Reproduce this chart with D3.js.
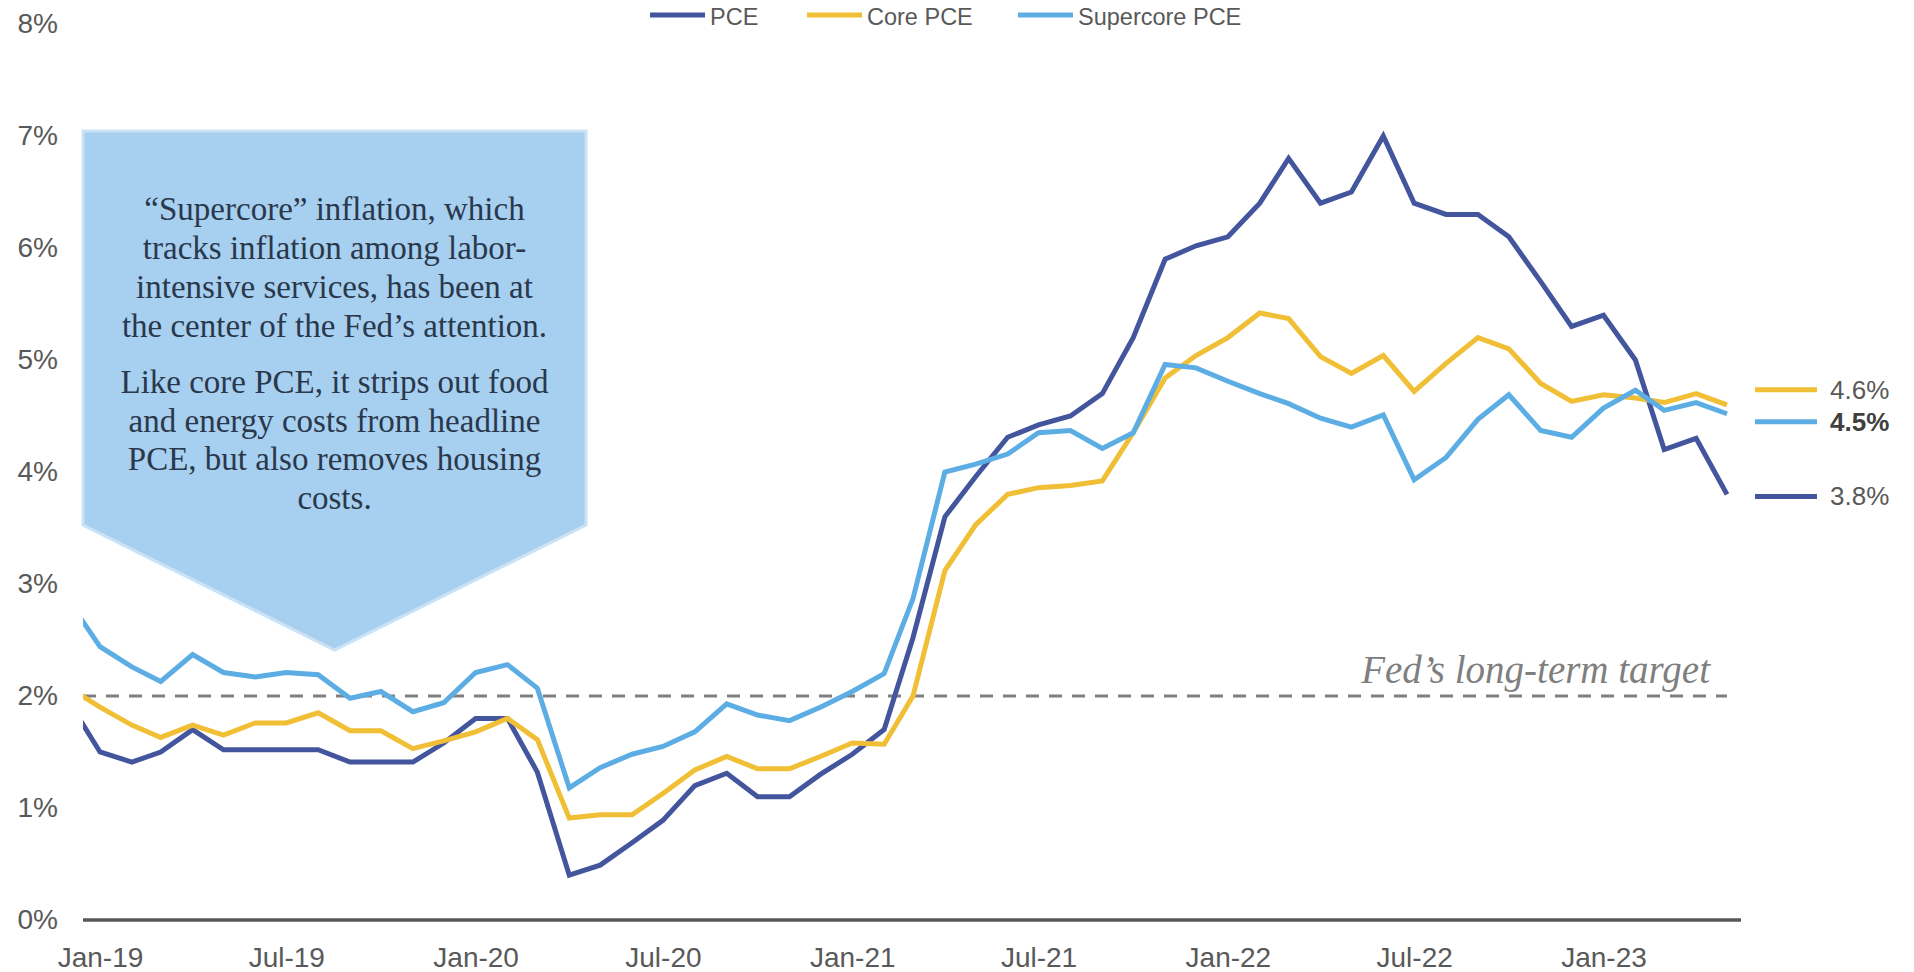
<!DOCTYPE html>
<html>
<head>
<meta charset="utf-8">
<script src="https://d3js.org/d3.v7.min.js"></script>
<style>
  body { margin: 0; background: #fff; }
  text { font-family: "Liberation Sans", Arial, sans-serif; }
</style>
</head>
<body>
<div id="chart"></div>
<script>
// monthly YoY inflation, Dec-18 .. May-23 (Dec-18 is clipped at the left edge)
var firstMonth = new Date(2018, 11, 1);
var pce = [1.96,
  1.50, 1.41, 1.50, 1.70, 1.52, 1.52, 1.52, 1.52, 1.41, 1.41, 1.41, 1.58,
  1.80, 1.80, 1.32, 0.40, 0.49, 0.69, 0.89, 1.20, 1.31, 1.10, 1.10, 1.30,
  1.48, 1.70, 2.52, 3.60, 3.96, 4.31, 4.42, 4.50, 4.70, 5.20, 5.90, 6.02,
  6.10, 6.40, 6.80, 6.40, 6.50, 7.00, 6.40, 6.30, 6.30, 6.10, 5.70, 5.30,
  5.40, 5.00, 4.20, 4.30, 3.80];
var corePce = [2.08,
  1.90, 1.74, 1.63, 1.74, 1.65, 1.76, 1.76, 1.85, 1.69, 1.69, 1.53, 1.60,
  1.68, 1.80, 1.61, 0.91, 0.94, 0.94, 1.13, 1.34, 1.46, 1.35, 1.35, 1.46,
  1.58, 1.57, 2.00, 3.12, 3.53, 3.80, 3.86, 3.88, 3.92, 4.35, 4.84, 5.04,
  5.20, 5.42, 5.37, 5.03, 4.88, 5.04, 4.72, 4.97, 5.20, 5.10, 4.79, 4.63,
  4.69, 4.66, 4.62, 4.70, 4.60];
var supercorePce = [2.86,
  2.44, 2.26, 2.13, 2.37, 2.21, 2.17, 2.21, 2.19, 1.98, 2.04, 1.86, 1.94,
  2.21, 2.28, 2.07, 1.18, 1.36, 1.48, 1.55, 1.68, 1.93, 1.83, 1.78, 1.90,
  2.04, 2.20, 2.87, 4.00, 4.07, 4.16, 4.35, 4.37, 4.21, 4.35, 4.96, 4.93,
  4.81, 4.70, 4.61, 4.48, 4.40, 4.51, 3.93, 4.13, 4.47, 4.69, 4.37, 4.31,
  4.57, 4.73, 4.55, 4.62, 4.52];

var seriesNames = ["PCE", "Core PCE", "Supercore PCE"];
var seriesColors = ["#43559c", "#f0bf36", "#5cade4"];
var xTickLabels = ["Jan-19", "Jul-19", "Jan-20", "Jul-20", "Jan-21", "Jul-21", "Jan-22", "Jul-22", "Jan-23"];
var yTicks = [0, 1, 2, 3, 4, 5, 6, 7, 8];
var fedTarget = 2;

var noteLines1 = ["\u201cSupercore\u201d inflation, which", "tracks inflation among labor-",
  "intensive services, has been at", "the center of the Fed\u2019s attention."];
var noteLines2 = ["Like core PCE, it strips out food", "and energy costs from headline",
  "PCE, but also removes housing", "costs."];

var width = 1914, height = 972;
var plotLeft = 83, plotRight = 1741;

var months = pce.map(function (d, i) { return d3.timeMonth.offset(firstMonth, i); });
var series = [pce, corePce, supercorePce].map(function (vals, k) {
  return { name: seriesNames[k], color: seriesColors[k],
           values: vals.map(function (v, i) { return { date: months[i], val: v }; }) };
});

var svg = d3.select("#chart").append("svg")
  .attr("width", width).attr("height", height);

var xScale = d3.scaleTime()
  .domain([new Date(2019, 0, 1), new Date(2023, 4, 1)])
  .range([100, 1727]);
var yScale = d3.scaleLinear().domain([0, 8]).range([920, 24]);

// annotation box (arrow pointing down)
var box = { left: 83, right: 586, top: 131, shoulder: 525, tipY: 650 };
var tipX = (box.left + box.right) / 2;
svg.append("path")
  .attr("d", "M" + box.left + "," + box.top + "H" + box.right + "V" + box.shoulder +
    "L" + tipX + "," + box.tipY + "L" + box.left + "," + box.shoulder + "Z")
  .attr("fill", "#a7cff0")
  .attr("stroke", "#c9e2f6")
  .attr("stroke-width", 3);

var note = svg.append("g")
  .attr("font-size", 33)
  .attr("fill", "#2a384b")
  .attr("text-anchor", "middle");
note.selectAll("text.p1").data(noteLines1).enter().append("text")
  .style("font-family", "'Liberation Serif', serif")
  .attr("x", tipX).attr("y", function (d, i) { return 220 + i * 39; })
  .text(function (d) { return d; });
note.selectAll("text.p2").data(noteLines2).enter().append("text")
  .style("font-family", "'Liberation Serif', serif")
  .attr("x", tipX).attr("y", function (d, i) { return 393 + i * 38.5; })
  .text(function (d) { return d; });

// y axis labels
var yAxis = d3.axisLeft(yScale).tickValues(yTicks)
  .tickFormat(function (d) { return d + "%"; })
  .tickSize(0).tickPadding(0);
svg.append("g").attr("transform", "translate(58,0)").call(yAxis)
  .call(function (g) { g.select(".domain").remove(); })
  .selectAll("text")
  .attr("font-size", 28).attr("fill", "#595959");

// x axis labels
var tickDates = xTickLabels.map(function (s) { return d3.timeParse("%b-%y")(s); });
var xAxis = d3.axisBottom(xScale).tickValues(tickDates)
  .tickFormat(d3.timeFormat("%b-%y")).tickSize(0).tickPadding(27);
svg.append("g").attr("transform", "translate(0,920)").call(xAxis)
  .call(function (g) { g.select(".domain").remove(); })
  .selectAll("text")
  .attr("font-size", 28).attr("fill", "#595959");

// Fed target line
svg.append("line")
  .attr("x1", plotLeft).attr("x2", xScale(months[months.length - 1]))
  .attr("y1", yScale(fedTarget)).attr("y2", yScale(fedTarget))
  .attr("stroke", "#7f7f7f").attr("stroke-width", 3)
  .attr("stroke-dasharray", "13,10");
svg.append("text")
  .attr("x", 1710).attr("y", yScale(fedTarget) - 13)
  .attr("text-anchor", "end")
  .style("font-family", "'Liberation Serif', serif")
  .attr("font-style", "italic").attr("font-size", 39)
  .attr("fill", "#7f7f7f")
  .text("Fed\u2019s long-term target");

// baseline
svg.append("line")
  .attr("x1", plotLeft).attr("x2", plotRight)
  .attr("y1", yScale(0)).attr("y2", yScale(0))
  .attr("stroke", "#595959").attr("stroke-width", 3.5);

// lines
svg.append("clipPath").attr("id", "plotclip").append("rect")
  .attr("x", plotLeft).attr("y", 0).attr("width", plotRight - plotLeft).attr("height", height);
var line = d3.line().x(function (d) { return xScale(d.date); }).y(function (d) { return yScale(d.val); });
svg.append("g").attr("clip-path", "url(#plotclip)")
  .selectAll("path").data(series).enter().append("path")
  .attr("fill", "none")
  .attr("stroke", function (d) { return d.color; })
  .attr("stroke-width", 5)
  .attr("d", function (d) { return line(d.values); });

// legend
var legendX = [650, 807, 1018];
var legend = svg.selectAll("g.legend").data(series).enter().append("g")
  .attr("transform", function (d, i) { return "translate(" + legendX[i] + ",15)"; });
legend.append("line").attr("x1", 0).attr("x2", 55)
  .attr("stroke", function (d) { return d.color; }).attr("stroke-width", 5);
legend.append("text").attr("x", 60).attr("y", 10)
  .attr("font-size", 23.5).attr("fill", "#595959")
  .text(function (d) { return d.name; });

// end labels (nudged apart)
var endNudge = [2, -15, 8];
var endBold = [false, false, true];
var ends = svg.selectAll("g.endlabel").data(series).enter().append("g")
  .attr("transform", function (d, i) {
    var last = d.values[d.values.length - 1];
    return "translate(1755," + (yScale(last.val) + endNudge[i]) + ")";
  });
ends.append("line").attr("x1", 0).attr("x2", 62)
  .attr("stroke", function (d) { return d.color; }).attr("stroke-width", 5);
ends.append("text").attr("x", 75).attr("y", 9)
  .attr("font-size", 26)
  .attr("font-weight", function (d, i) { return endBold[i] ? "bold" : "normal"; })
  .attr("fill", function (d, i) { return endBold[i] ? "#404040" : "#595959"; })
  .text(function (d) { return d3.format(".1f")(d.values[d.values.length - 1].val) + "%"; });
</script>
</body>
</html>
